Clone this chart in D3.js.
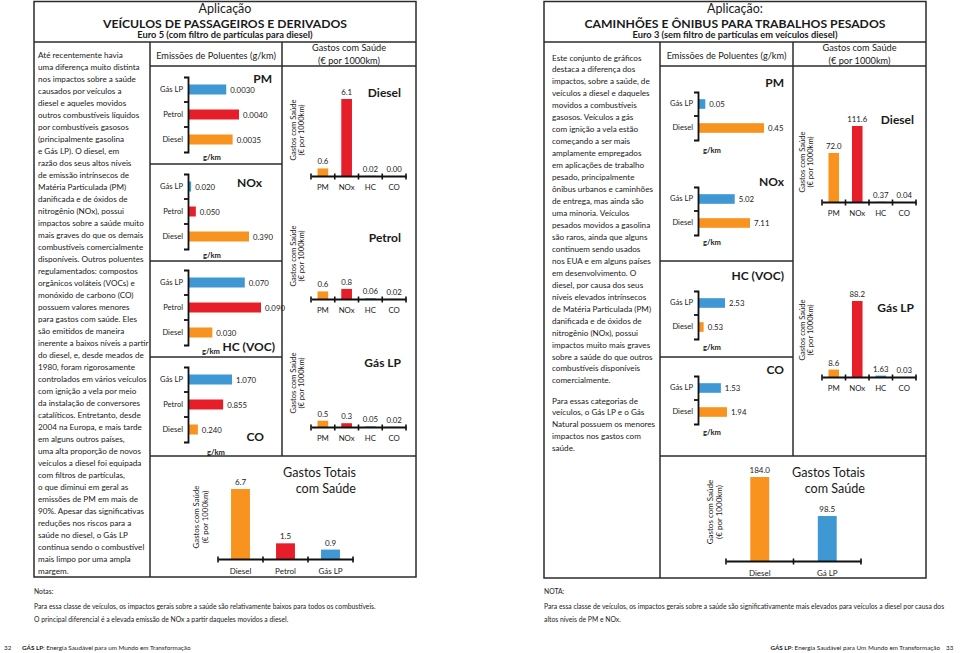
<!DOCTYPE html>
<html><head><meta charset="utf-8">
<script src="https://cdn.jsdelivr.net/npm/d3@7"></script>
<style>
body{margin:0;background:#fff}
svg{display:block}
text{font-family:Lato,"Open Sans",sans-serif;fill:#1a1a1a}
</style>
</head><body>
<svg id="c" width="960" height="653"></svg>
<script>
// ---------------- DATA ----------------
const pollutants = ["PM","NOx","HC","CO"];
// Left page: passenger vehicles (Euro 5)
const carFuels = ["Gás LP","Petrol","Diesel"];
const carPM = [0.0030,0.0040,0.0035];
const carPMLabels = ["0.0030","0.0040","0.0035"];
const carNOx = [0.020,0.050,0.390];
const carNOxLabels = ["0.020","0.050","0.390"];
const carHC = [0.070,0.090,0.030];
const carHCLabels = ["0.070","0.090","0.030"];
const carCO = [1.070,0.855,0.240];
const carCOLabels = ["1.070","0.855","0.240"];
const carHealthDiesel = [0.6,6.1,0.02,0.00];
const carHealthDieselLabels = ["0.6","6.1","0.02","0.00"];
const carHealthPetrol = [0.6,0.8,0.06,0.02];
const carHealthPetrolLabels = ["0.6","0.8","0.06","0.02"];
const carHealthGLP = [0.5,0.3,0.05,0.02];
const carHealthGLPLabels = ["0.5","0.3","0.05","0.02"];
const carTotalCats = ["Diesel","Petrol","Gás LP"];
const carTotal = [6.7,1.5,0.9];
const carTotalLabels = ["6.7","1.5","0.9"];
// Right page: heavy duty (Euro 3)
const truckFuels = ["Gás LP","Diesel"];
const truckPM = [0.05,0.45];
const truckPMLabels = ["0.05","0.45"];
const truckNOx = [5.02,7.11];
const truckNOxLabels = ["5.02","7.11"];
const truckHC = [2.53,0.53];
const truckHCLabels = ["2.53","0.53"];
const truckCO = [1.53,1.94];
const truckCOLabels = ["1.53","1.94"];
const truckHealthDiesel = [72.0,111.6,0.37,0.04];
const truckHealthDieselLabels = ["72.0","111.6","0.37","0.04"];
const truckHealthGLP = [8.6,88.2,1.63,0.03];
const truckHealthGLPLabels = ["8.6","88.2","1.63","0.03"];
const truckTotalCats = ["Diesel","Gá LP"];
const truckTotal = [184.0,98.5];
const truckTotalLabels = ["184.0","98.5"];

const leftText = ["Até recentemente havia","uma diferença muito distinta","nos impactos sobre a saúde","causados por veículos a","diesel e aqueles movidos","outros combustíveis líquidos","por combustíveis gasosos","(principalmente gasolina","e Gás LP). O diesel,  em","razão dos seus altos níveis","de emissão intrínsecos de","Matéria Particulada (PM)","danificada e de óxidos de","nitrogênio (NOx), possui","impactos sobre a saúde muito","mais graves do que os demais","combustíveis comercialmente","disponíveis. Outros poluentes","regulamentados: compostos","orgânicos voláteis (VOCs) e","monóxido de carbono (CO)","possuem valores menores","para gastos com saúde. Eles","são emitidos de maneira","inerente a baixos níveis a partir","do diesel, e, desde meados de","1980, foram rigorosamente","controlados em vários veículos","com ignição a vela por meio","da instalação de conversores","catalíticos. Entretanto, desde","2004 na Europa, e mais tarde","em alguns outros países,","uma alta proporção de novos","veículos a diesel foi equipada","com filtros de partículas,","o que diminui em geral as","emissões de PM em mais de","90%. Apesar das significativas","reduções nos riscos para a","saúde no diesel, o Gás LP","continua sendo o combustível","mais limpo por uma ampla","margem."];
const rightText1 = ["Este conjunto de gráficos","destaca a diferença dos","impactos, sobre a saúde, de","veículos a diesel e daqueles","movidos a combustíveis","gasosos. Veículos a gás","com ignição a vela estão","começando a ser mais","amplamente empregados","em aplicações de trabalho","pesado, principalmente","ônibus urbanos e caminhões","de entrega, mas ainda são","uma minoria. Veículos","pesados movidos a gasolina","são raros, ainda que alguns","continuem sendo usados","nos EUA e em alguns países","em desenvolvimento. O","diesel, por causa dos seus","níveis elevados intrínsecos","de Matéria Particulada (PM)","danificada e de óxidos de","nitrogênio (NOx), possui","impactos muito mais graves","sobre a saúde do que outros","combustíveis disponíveis","comercialmente."];
const rightText2 = ["Para essas categorias de","veículos, o Gás LP e o Gás","Natural possuem os menores","impactos nos gastos com","saúde."];

// ---------------- STYLE ----------------
const fuelColor = {"Gás LP":"#3f97d3","Gá LP":"#3f97d3","Petrol":"#e61e2a","Diesel":"#f7931e"};
const pollColor = {"PM":"#f7931e","NOx":"#e61e2a","HC":"#3f97d3","CO":"#8c8c8c"};
const svg = d3.select("#c");
svg.append("rect").attr("width",960).attr("height",653).attr("fill","#fff");

function txt(x,y,s,size,opts={}){
  const t = svg.append("text").attr("x",x).attr("y",y).text(s)
    .attr("font-size",size).attr("text-anchor",opts.anchor||"start");
  if(opts.bold) t.attr("font-weight","bold");
  if(opts.fill) t.attr("fill",opts.fill);
  return t;
}
function line(x1,y1,x2,y2,w=1.5){
  svg.append("line").attr("x1",x1).attr("y1",y1).attr("x2",x2).attr("y2",y2)
    .attr("stroke","#2b2b2b").attr("stroke-width",w);
}

// ---------------- FRAMES ----------------
function frame(o){
  svg.append("rect").attr("x",o.x0).attr("y",1.5).attr("width",o.x3-o.x0).attr("height",o.bottom-1.5)
    .attr("fill","none").attr("stroke","#2b2b2b").attr("stroke-width",1.5);
  line(o.x0,42,o.x3,42);
  line(o.x1,42,o.x1,o.bottom);
  line(o.x2,42,o.x2,456);
  line(o.x1,66,o.x3,66);
  o.hlines.forEach(y=>line(o.x1,y,o.x2,y));
  line(o.x1,456,o.x3,456);
  const cx=(o.x0+o.x3)/2;
  txt(cx,12.5,o.app,12.5,{anchor:"middle"});
  txt(cx,27.5,o.title,12.2,{anchor:"middle",bold:true});
  txt(cx,38,o.sub,9.3,{anchor:"middle",bold:true});
  txt((o.x1+o.x2)/2,59,"Emissões de Poluentes (g/km)",9.2,{anchor:"middle"});
  txt((o.x2+o.x3)/2,51,"Gastos com Saúde",9.2,{anchor:"middle"});
  txt((o.x2+o.x3)/2,64,"(€  por 1000km)",9.2,{anchor:"middle"});
}
frame({x0:34,x1:150,x2:282,x3:416,bottom:577,hlines:[164,261,357],
  app:"Aplicação",title:"VEÍCULOS DE PASSAGEIROS E DERIVADOS",sub:"Euro 5 (com filtro de partículas para diesel)"});
frame({x0:544,x1:660,x2:793,x3:926,bottom:578,hlines:[261,357],
  app:"Aplicação:",title:"CAMINHÕES E ÔNIBUS PARA TRABALHOS PESADOS",sub:"Euro 3 (sem filtro de partículas em veículos diesel)"});

// ---------------- BODY TEXT ----------------
leftText.forEach((s,i)=>txt(38,57.5+i*12.0,s,8.15));
rightText1.forEach((s,i)=>txt(552,60.5+i*11.96,s,8.15));
rightText2.forEach((s,i)=>txt(552,403.5+i*11.8,s,8.15));

// ---------------- HORIZONTAL EMISSION PANELS ----------------
function hbar(o){
  const g = svg.append("g");
  const y = d3.scaleBand().domain(o.fuels).range([o.top,o.top+o.step*o.fuels.length])
    .paddingInner(0.6).paddingOuter(0.3);
  const x = d3.scaleLinear().domain([0,d3.max(o.values)]).range([o.axisX,o.axisX+o.maxLen]);
  g.selectAll("rect").data(o.fuels).join("rect")
    .attr("x",x(0)).attr("y",f=>y(f)).attr("height",y.bandwidth())
    .attr("width",(f,i)=>x(o.values[i])-x(0)).attr("fill",f=>fuelColor[f]);
  g.selectAll("text.v").data(o.fuels).join("text").attr("class","v")
    .attr("x",(f,i)=>x(o.values[i])+4).attr("y",f=>y(f)+y.bandwidth()/2+3)
    .attr("font-size",7.8).text((f,i)=>o.labels[i]);
  const ax = g.append("g").attr("transform",`translate(${o.axisX},0)`)
    .call(d3.axisLeft(y).tickSize(0).tickSizeOuter(4).tickPadding(5));
  ax.select(".domain").attr("stroke","#111").attr("stroke-width",1.8);
  ax.selectAll(".tick text").attr("font-size",7.6).attr("font-family","Lato,sans-serif").attr("fill","#1a1a1a");
  d3.range(1,o.fuels.length).forEach(i=>{
    const yy = o.top+i*y.step();
    g.append("line").attr("x1",o.axisX-4).attr("x2",o.axisX).attr("y1",yy).attr("y2",yy)
      .attr("stroke","#111").attr("stroke-width",1.8);
  });
  txt(o.gkmX,o.gkmY,"g/km",7.6,{anchor:"middle",bold:true});
  txt(o.titleX,o.titleY,o.title,12,{anchor:"end",bold:true});
}
// left
hbar({fuels:carFuels,values:carPM,labels:carPMLabels,axisX:188,top:77,step:25,maxLen:51,gkmX:212,gkmY:160,title:"PM",titleX:272,titleY:83});
hbar({fuels:carFuels,values:carNOx,labels:carNOxLabels,axisX:188,top:174,step:25,maxLen:61,gkmX:212,gkmY:258,title:"NOx",titleX:262,titleY:187});
hbar({fuels:carFuels,values:carHC,labels:carHCLabels,axisX:188,top:270,step:25,maxLen:73,gkmX:211,gkmY:354,title:"HC (VOC)",titleX:275,titleY:351});
hbar({fuels:carFuels,values:carCO,labels:carCOLabels,axisX:188,top:367,step:25,maxLen:44,gkmX:216,gkmY:455,title:"CO",titleX:264,titleY:441});
// right
hbar({fuels:truckFuels,values:truckPM,labels:truckPMLabels,axisX:698,top:92,step:24,maxLen:66,gkmX:712,gkmY:153,title:"PM",titleX:784,titleY:87});
hbar({fuels:truckFuels,values:truckNOx,labels:truckNOxLabels,axisX:698,top:187,step:24,maxLen:52,gkmX:712,gkmY:245,title:"NOx",titleX:784,titleY:186});
hbar({fuels:truckFuels,values:truckHC,labels:truckHCLabels,axisX:698,top:291,step:24,maxLen:27,gkmX:712,gkmY:350,title:"HC (VOC)",titleX:784,titleY:280});
hbar({fuels:truckFuels,values:truckCO,labels:truckCOLabels,axisX:698,top:376,step:24,maxLen:29,gkmX:712,gkmY:435,title:"CO",titleX:784,titleY:374});

// ---------------- VERTICAL BAR CHARTS ----------------
function ytitle(x,cy,size){
  const g = svg.append("g").attr("transform",`translate(${x},${cy}) rotate(-90)`);
  g.append("text").attr("x",0).attr("y",0).attr("text-anchor","middle").attr("font-size",size).text("Gastos com Saúde");
  g.append("text").attr("x",0).attr("y",size*1.1).attr("text-anchor","middle").attr("font-size",size).text("(€  por 1000km)");
}
function vbar(o){
  const g = svg.append("g");
  const x = d3.scaleBand().domain(o.cats).range([o.x0,o.x1]).paddingInner(o.pi).paddingOuter(o.pi/2);
  const y = d3.scaleLinear().domain([0,o.dmax]).range([o.base,o.base-o.hmax]);
  g.selectAll("rect").data(o.cats).join("rect")
    .attr("x",c=>x(c)).attr("width",x.bandwidth())
    .attr("y",(c,i)=>y(o.values[i])).attr("height",(c,i)=>o.base-y(o.values[i]))
    .attr("fill",c=>o.color(c));
  g.selectAll("text.v").data(o.cats).join("text").attr("class","v")
    .attr("x",c=>x(c)+x.bandwidth()/2).attr("y",(c,i)=>y(o.values[i])-4)
    .attr("text-anchor","middle").attr("font-size",o.vsize).text((c,i)=>o.labels[i]);
  const ax = g.append("g").attr("transform",`translate(0,${o.base})`)
    .call(d3.axisBottom(x).tickSize(0).tickSizeOuter(0).tickPadding(o.pad));
  ax.select(".domain").attr("stroke","#111").attr("stroke-width",1.8);
  ax.selectAll(".tick text").attr("font-size",o.csize).attr("font-family","Lato,sans-serif").attr("fill","#1a1a1a");
  d3.range(0,o.cats.length+1).forEach(i=>{
    const bx = o.x0 + (o.x1-o.x0)*i/o.cats.length;
    g.append("line").attr("x1",bx).attr("x2",bx).attr("y1",o.base-2.5).attr("y2",o.base+3.5)
      .attr("stroke","#111").attr("stroke-width",1.6);
  });
  if(o.title) txt(o.titleX,o.titleY,o.title,12,{anchor:"end",bold:true});
  ytitle(o.ytx,o.yty,o.ysize||7.6);
}
const pc = c=>pollColor[c];
// left health (shared scale)
const carHealthMax = d3.max([...carHealthDiesel,...carHealthPetrol,...carHealthGLP]);
vbar({cats:pollutants,values:carHealthDiesel,labels:carHealthDieselLabels,color:pc,x0:311,x1:406,base:176,dmax:carHealthMax,hmax:77,pi:0.55,vsize:7.8,csize:7.8,pad:8,title:"Diesel",titleX:401,titleY:96.5,ytx:296,yty:130});
vbar({cats:pollutants,values:carHealthPetrol,labels:carHealthPetrolLabels,color:pc,x0:311,x1:406,base:299,dmax:carHealthMax,hmax:77,pi:0.55,vsize:7.8,csize:7.8,pad:8,title:"Petrol",titleX:401,titleY:241.5,ytx:296,yty:256});
vbar({cats:pollutants,values:carHealthGLP,labels:carHealthGLPLabels,color:pc,x0:311,x1:406,base:427,dmax:carHealthMax,hmax:77,pi:0.55,vsize:7.8,csize:7.8,pad:8,title:"Gás LP",titleX:401,titleY:366.5,ytx:296,yty:383});
// right health
vbar({cats:pollutants,values:truckHealthDiesel,labels:truckHealthDieselLabels,color:pc,x0:822,x1:916,base:202,dmax:d3.max(truckHealthDiesel),hmax:76,pi:0.55,vsize:7.8,csize:7.8,pad:8,title:"Diesel",titleX:914,titleY:123.5,ytx:805,yty:162});
vbar({cats:pollutants,values:truckHealthGLP,labels:truckHealthGLPLabels,color:pc,x0:822,x1:916,base:377,dmax:d3.max(truckHealthGLP),hmax:76,pi:0.55,vsize:7.8,csize:7.8,pad:8,title:"Gás LP",titleX:914,titleY:311.5,ytx:805,yty:330});
// totals
const fc = c=>fuelColor[c];
vbar({cats:carTotalCats,values:carTotal,labels:carTotalLabels,color:fc,x0:218,x1:353,base:559,dmax:d3.max(carTotal),hmax:70,pi:0.58,vsize:8,csize:8,pad:9,ytx:199,yty:517,ysize:7.8});
txt(356,476.5,"Gastos Totais",12.6,{anchor:"end"});
txt(356,492.5,"com Saúde",12.6,{anchor:"end"});
vbar({cats:truckTotalCats,values:truckTotal,labels:truckTotalLabels,color:fc,x0:726,x1:861,base:561,dmax:d3.max(truckTotal),hmax:84,pi:0.72,vsize:8,csize:8,pad:9,ytx:713,yty:512,ysize:8});
txt(865,476.5,"Gastos Totais",12.6,{anchor:"end"});
txt(865,492.5,"com Saúde",12.6,{anchor:"end"});

// ---------------- NOTES & FOOTERS ----------------
txt(34,594,"Notas:",6.8);
txt(34,608.5,"Para essa classe de veículos, os impactos gerais sobre a saúde são relativamente baixos para todos os combustíveis.",6.8);
txt(34,621.5,"O principal diferencial é a elevada emissão de NOx a partir daqueles movidos a diesel.",6.8);
txt(544,594,"NOTA:",6.8);
txt(544,608.5,"Para essa classe de veículos, os impactos gerais sobre a saúde são significativamente mais elevados para veículos a diesel por causa dos",6.8);
txt(544,621.5,"altos níveis de PM e NOx.",6.8);
txt(4,649.5,"32",6.3);
const f1 = svg.append("text").attr("x",22).attr("y",649.5).attr("font-size",6.3);
f1.append("tspan").attr("font-weight","bold").text("GÁS LP");
f1.append("tspan").text(": Energia Saudável para um Mundo em Transformação");
const f2 = svg.append("text").attr("x",940).attr("y",649.5).attr("font-size",6.3).attr("text-anchor","end");
f2.append("tspan").attr("font-weight","bold").text("GÁS LP");
f2.append("tspan").text(": Energia Saudável para Um Mundo em Transformação");
txt(946,649.5,"33",6.3);
</script>
</body></html>
